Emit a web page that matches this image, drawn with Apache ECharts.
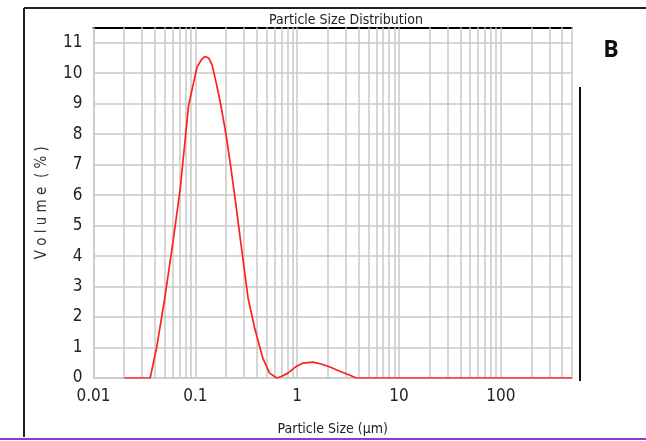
<!DOCTYPE html>
<html>
<head>
<meta charset="utf-8">
<script src="https://cdn.jsdelivr.net/npm/echarts@6/dist/echarts.min.js"></script>
<style>
html,body{margin:0;padding:0;background:#fff;}
#c{width:646px;height:441px;}
</style>
</head>
<body>
<div id="c"></div>
<script>
// Particle sizes (µm) and volume (%)
var sizes   = [0.02, 0.036, 0.0417, 0.05, 0.061, 0.0711, 0.0857, 0.1037, 0.115, 0.125, 0.135, 0.1455, 0.16, 0.176, 0.20, 0.222, 0.25, 0.276, 0.33, 0.383, 0.46, 0.536, 0.63, 0.70, 0.81, 0.98, 1.14, 1.42, 1.72, 2.1, 2.62, 3.3, 3.8, 500];
var volumes = [0,    0,     1.0,    2.6,  4.58,  6.21,   8.93,   10.19,  10.45, 10.55, 10.5,  10.29,  9.7,  9.04,  8.0,  6.97,  5.7,  4.58,  2.61, 1.63,  0.65, 0.16,  0,    0.05, 0.16, 0.38, 0.49, 0.52, 0.46, 0.36, 0.22, 0.09, 0,   0];
var xTickLabels = ['0.01', '0.1', '1', '10', '100'];
var yTickLabels = ['0','1','2','3','4','5','6','7','8','9','10','11'];
var xMin = 0.01, xMax = 500, yMin = 0, yMax = 11.5;

// gridline positions at 1..9 x each decade
var gridVals = [];
[0.01, 0.1, 1, 10, 100].forEach(function (d) {
  for (var k = 1; k <= 9; k++) {
    var v = +(k * d).toPrecision(3);
    if (v >= xMin && v <= xMax) gridVals.push(v);
  }
});

var narrow = '"Liberation Sans Narrow", "DejaVu Sans Condensed", "Arial Narrow", sans-serif';
var gridColor = '#c8c8c8';

var chart = echarts.init(document.getElementById('c'), null, {renderer: 'canvas'});
chart.setOption({
  animation: false,
  backgroundColor: '#ffffff',
  title: {
    text: 'Particle Size Distribution',
    left: 341, top: 8, textAlign: 'center',
    textStyle: {fontFamily: narrow, fontSize: 14, fontWeight: 'normal', color: '#222'}
  },
  grid: {left: 93.5, right: 74, top: 27.5, bottom: 61, containLabel: false},
  xAxis: [{
    type: 'log', logBase: 10, min: xMin, max: xMax,
    name: 'Particle Size (µm)', nameLocation: 'middle', nameGap: 44,
    nameTextStyle: {fontFamily: narrow, fontSize: 14, color: '#222'},
    axisLine: {show: true, lineStyle: {color: gridColor, width: 1.5}},
    axisTick: {show: false},
    splitLine: {show: false},
    axisLabel: {
      fontFamily: narrow, fontSize: 17, color: '#222', margin: 10,
      formatter: function (v) {
        var s = String(+v.toPrecision(3));
        return xTickLabels.indexOf(s) >= 0 ? s : '';
      }
    }
  }, {
    type: 'log', logBase: 10, min: xMin, max: xMax, position: 'top',
    axisLine: {show: true, lineStyle: {color: '#000', width: 2}},
    axisTick: {show: false}, axisLabel: {show: false}, splitLine: {show: false}
  }],
  yAxis: {
    type: 'value', min: yMin, max: yMax, interval: 1,
    name: 'V o l u m e  ( % )', nameLocation: 'middle', nameGap: 44, nameRotate: 90,
    nameTextStyle: {fontFamily: narrow, fontSize: 15, color: '#333'},
    axisLine: {show: true, lineStyle: {color: gridColor, width: 1.5}},
    axisTick: {show: false},
    splitLine: {show: true, lineStyle: {color: gridColor, width: 1.5}},
    axisLabel: {
      fontFamily: narrow, fontSize: 17, color: '#222', margin: 11,
      formatter: function (v) {
        var s = String(v);
        return yTickLabels.indexOf(s) >= 0 ? s : '';
      }
    }
  },
  graphic: [
    {type: 'line', shape: {x1: 24, y1: 8, x2: 646, y2: 8}, style: {stroke: '#222', lineWidth: 2}},
    {type: 'line', shape: {x1: 24, y1: 8, x2: 24, y2: 437}, style: {stroke: '#222', lineWidth: 2}},
    {type: 'line', shape: {x1: 0, y1: 439, x2: 646, y2: 439}, style: {stroke: '#9b35c6', lineWidth: 2}},
    {type: 'line', shape: {x1: 580, y1: 87, x2: 580, y2: 381}, style: {stroke: '#111', lineWidth: 2}},
    {type: 'text', x: 611, y: 50, style: {text: 'B', font: 'bold 23px "Open Sans", "Liberation Sans", sans-serif', fill: '#111', textAlign: 'center', textVerticalAlign: 'middle'}}
  ],
  series: [{
    type: 'line', data: [], z: 1, silent: true,
    markLine: {
      silent: true, symbol: 'none', animation: false,
      label: {show: false},
      lineStyle: {color: gridColor, width: 1.5, type: 'solid'},
      data: gridVals.map(function (v) { return {xAxis: v}; })
    }
  }, {
    type: 'line', z: 5,
    data: sizes.map(function (s, i) { return [s, volumes[i]]; }),
    showSymbol: false, smooth: false,
    lineStyle: {color: '#ff2020', width: 1.7}
  }]
});
</script>
</body>
</html>
